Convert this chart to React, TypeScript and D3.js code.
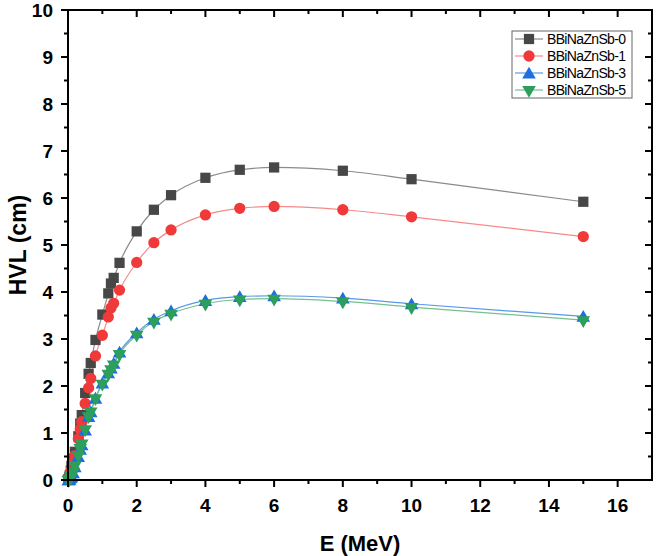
import React, { useEffect, useRef } from 'react';
import * as d3 from 'd3';

const energies = [0.015, 0.02, 0.03, 0.05, 0.08, 0.1, 0.15, 0.2, 0.3, 0.356, 0.4, 0.5, 0.6, 0.662, 0.8, 1, 1.173, 1.25, 1.33, 1.5, 2, 2.5, 3, 4, 5, 6, 8, 10, 15];

const hvlS0 = [0.01, 0.02, 0.05, 0.1, 0.2, 0.3, 0.45, 0.6, 0.93, 1.2, 1.38, 1.85, 2.26, 2.49, 2.98, 3.52, 3.97, 4.18, 4.3, 4.62, 5.29, 5.75, 6.06, 6.43, 6.6, 6.65, 6.58, 6.4, 5.92];
const hvlS1 = [0.01, 0.02, 0.04, 0.08, 0.15, 0.22, 0.37, 0.52, 0.88, 1.08, 1.24, 1.63, 1.96, 2.16, 2.64, 3.08, 3.47, 3.66, 3.76, 4.04, 4.63, 5.05, 5.32, 5.64, 5.78, 5.82, 5.75, 5.6, 5.18];
const hvlS3 = [0.002, 0.004, 0.01, 0.02, 0.05, 0.08, 0.15, 0.28, 0.5, 0.65, 0.75, 1.06, 1.35, 1.45, 1.74, 2.06, 2.28, 2.38, 2.48, 2.72, 3.13, 3.42, 3.6, 3.82, 3.9, 3.92, 3.87, 3.75, 3.48];
const hvlS5 = [0.003, 0.006, 0.015, 0.03, 0.07, 0.1, 0.18, 0.31, 0.53, 0.68, 0.78, 1.08, 1.36, 1.46, 1.74, 2.05, 2.26, 2.36, 2.46, 2.68, 3.09, 3.37, 3.54, 3.75, 3.84, 3.86, 3.8, 3.68, 3.4];

const seriesNames = ['BBiNaZnSb-0', 'BBiNaZnSb-1', 'BBiNaZnSb-3', 'BBiNaZnSb-5'];
const xTicks = [0, 2, 4, 6, 8, 10, 12, 14, 16];
const yTicks = [0, 1, 2, 3, 4, 5, 6, 7, 8, 9, 10];

const FONT = 'Arial, "Liberation Sans", sans-serif';

const App: React.FC = () => {
  const ref = useRef<HTMLDivElement | null>(null);

  useEffect(() => {
    if (!ref.current) return;
    d3.select(ref.current).selectAll('*').remove();

    const svg = d3.select(ref.current)
      .append('svg')
      .attr('width', 656)
      .attr('height', 556)
      .style('display', 'block')
      .style('background', '#fff');

    const left = 68, right = 652, top = 10, bottom = 480;
    const x = d3.scaleLinear().domain([0, 17]).range([left, right]);
    const y = d3.scaleLinear().domain([0, 10]).range([bottom, top]);

    const series = [
      { name: seriesNames[0], values: hvlS0, fill: '#474747', line: '#8a8a8a', shape: 'square' },
      { name: seriesNames[1], values: hvlS1, fill: '#f03a3a', line: '#f58a8a', shape: 'circle' },
      { name: seriesNames[2], values: hvlS3, fill: '#1e6ee0', line: '#5a97ea', shape: 'up' },
      { name: seriesNames[3], values: hvlS5, fill: '#2c9f5c', line: '#74c08f', shape: 'down' },
    ];

    const symbolFor = (shape: string) => {
      if (shape === 'square') return d3.symbol().type(d3.symbolSquare).size(105);
      if (shape === 'circle') return d3.symbol().type(d3.symbolCircle).size(100);
      return d3.symbol().type(d3.symbolTriangle).size(80);
    };

    const line = d3.line<[number, number]>()
      .x(d => x(d[0]))
      .y(d => y(d[1]))
      .curve(d3.curveMonotoneX);

    const plot = svg.append('g');
    series.forEach(s => {
      const pts: [number, number][] = energies.map((e, i) => [e, s.values[i]]);
      plot.append('path')
        .datum(pts)
        .attr('fill', 'none')
        .attr('stroke', s.line)
        .attr('stroke-width', 1.2)
        .attr('d', line);
    });
    series.forEach(s => {
      const sym = symbolFor(s.shape);
      plot.append('g')
        .selectAll('path')
        .data(energies.map((e, i) => [e, s.values[i]]))
        .join('path')
        .attr('d', sym as any)
        .attr('fill', s.fill)
        .attr('transform', d => `translate(${x(d[0])},${y(d[1]) + (s.shape === 'up' ? 1.5 : 0)})${s.shape === 'down' ? ' rotate(180)' : ''}`);
    });

    // frame
    const axes = svg.append('g').attr('stroke', '#000').attr('stroke-width', 2);
    axes.append('rect')
      .attr('x', left).attr('y', top)
      .attr('width', right - left).attr('height', bottom - top)
      .attr('fill', 'none');

    const xMinor = d3.range(1, 17, 2);
    const yMinor = d3.range(0.5, 10, 1);

    // bottom (outward) and top (inward) ticks
    xTicks.forEach(t => {
      axes.append('line').attr('x1', x(t)).attr('x2', x(t)).attr('y1', bottom).attr('y2', bottom + 7);
      axes.append('line').attr('x1', x(t)).attr('x2', x(t)).attr('y1', top).attr('y2', top + 7);
    });
    xMinor.forEach(t => {
      axes.append('line').attr('x1', x(t)).attr('x2', x(t)).attr('y1', bottom).attr('y2', bottom + 4);
      axes.append('line').attr('x1', x(t)).attr('x2', x(t)).attr('y1', top).attr('y2', top + 4);
    });
    // left (outward) and right (inward) ticks
    yTicks.forEach(t => {
      axes.append('line').attr('x1', left - 7).attr('x2', left).attr('y1', y(t)).attr('y2', y(t));
      axes.append('line').attr('x1', right - 7).attr('x2', right).attr('y1', y(t)).attr('y2', y(t));
    });
    yMinor.forEach(t => {
      axes.append('line').attr('x1', left - 4).attr('x2', left).attr('y1', y(t)).attr('y2', y(t));
      axes.append('line').attr('x1', right - 4).attr('x2', right).attr('y1', y(t)).attr('y2', y(t));
    });

    const labels = svg.append('g')
      .style('font-family', FONT)
      .style('font-weight', 'bold')
      .attr('fill', '#000');

    labels.selectAll('text.xt')
      .data(xTicks)
      .join('text')
      .attr('class', 'xt')
      .attr('x', d => x(d))
      .attr('y', 512)
      .attr('text-anchor', 'middle')
      .style('font-size', '19px')
      .text(d => d);

    labels.selectAll('text.yt')
      .data(yTicks)
      .join('text')
      .attr('class', 'yt')
      .attr('x', 53)
      .attr('y', d => y(d) + 7)
      .attr('text-anchor', 'end')
      .style('font-size', '19px')
      .text(d => d);

    labels.append('text')
      .attr('x', 360)
      .attr('y', 551)
      .attr('text-anchor', 'middle')
      .style('font-size', '22px')
      .text('E (MeV)');

    labels.append('text')
      .attr('transform', 'translate(26,245) rotate(-90)')
      .attr('text-anchor', 'middle')
      .style('font-size', '23px')
      .text('HVL (cm)');

    // legend
    const lg = svg.append('g');
    lg.append('rect')
      .attr('x', 512).attr('y', 31)
      .attr('width', 120).attr('height', 67)
      .attr('fill', '#fff')
      .attr('stroke', '#666')
      .attr('stroke-width', 1);
    series.forEach((s, i) => {
      const cy = 39 + i * 17;
      lg.append('line')
        .attr('x1', 515).attr('x2', 543)
        .attr('y1', cy).attr('y2', cy)
        .attr('stroke', s.line).attr('stroke-width', 1.2);
      lg.append('path')
        .attr('d', symbolFor(s.shape) as any)
        .attr('fill', s.fill)
        .attr('transform', `translate(529,${cy + (s.shape === 'up' ? 1.5 : 0)})${s.shape === 'down' ? ' rotate(180)' : ''}`);
      lg.append('text')
        .attr('x', 547)
        .attr('y', cy + 5)
        .attr('textLength', 79)
        .attr('lengthAdjust', 'spacing')
        .style('font-family', FONT)
        .style('font-size', '14px')
        .attr('fill', '#000')
        .text(s.name);
    });
  }, []);

  return <div ref={ref} style={{ position: 'absolute', left: 0, top: 0 }}></div>;
};

export default App;
